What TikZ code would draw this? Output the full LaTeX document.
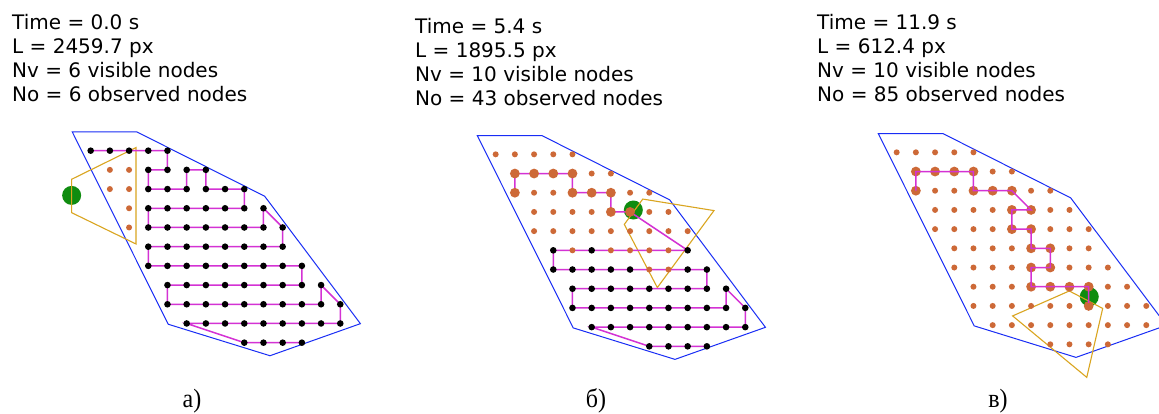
\documentclass[tikz,border=0pt]{standalone}
\usepackage{fontspec}
\setmainfont{DejaVu Sans}
\newfontfamily\capfont{Liberation Serif}

\definecolor{polyblue}{RGB}{25,45,245}
\definecolor{fovgold}{RGB}{218,165,32}
\definecolor{pathmag}{RGB}{212,50,212}
\definecolor{obsorange}{RGB}{205,105,55}
\definecolor{robgreen}{RGB}{15,140,15}

\tikzset{
  infotext/.style={anchor=base west, inner sep=0pt, font=\fontsize{20}{24}\selectfont},
  captext/.style={anchor=base, inner sep=0pt, yscale=1.1, font=\capfont\fontsize{24}{28}\selectfont},
  region/.style={draw=polyblue, line width=1pt},
  fov/.style={draw=fovgold, line width=1.1pt},
  route/.style={draw=pathmag, line width=1.5pt},
  robot/.style={fill=robgreen},
  pathdot/.style={fill=black},
  obsdot/.style={fill=obsorange},
}

\begin{document}
\begin{tikzpicture}[x=1pt,y=-1pt]
\useasboundingbox (0,0) rectangle (1159,414);
\clip (0,0) rectangle (1159,414);
\fill[white] (0,0) rectangle (1159,414);

% ---------- texts ----------
\node[infotext] (ta1) at (12,30)  {Time = 0.0 s};
\node[infotext] (ta2) at (12,54)  {L = 2459.7 px};
\node[infotext] (ta3) at (12,78)  {Nv = 6 visible nodes};
\node[infotext] (ta4) at (12,102) {No = 6 observed nodes};

\node[infotext] (tb1) at (415,33.5)  {Time = 5.4 s};
\node[infotext] (tb2) at (415,57.5)  {L = 1895.5 px};
\node[infotext] (tb3) at (415,81.5)  {Nv = 10 visible nodes};
\node[infotext] (tb4) at (415,105.5) {No = 43 observed nodes};

\node[infotext] (tc1) at (817,30)  {Time = 11.9 s};
\node[infotext] (tc2) at (817,54)  {L = 612.4 px};
\node[infotext] (tc3) at (817,78)  {Nv = 10 visible nodes};
\node[infotext] (tc4) at (817,102) {No = 85 observed nodes};

\node[captext] (capa) at (192,407) {а)};
\node[captext] (capb) at (596,407) {б)};
\node[captext] (capc) at (998,407) {в)};

% ---------- panel a ----------
\begin{scope}[shift={(90.67,150.67)}, x=19.2pt, y=-19.2pt]
  \draw[region] (-0.96,-0.98) -- (2.4,-0.98) -- (9.06,2.37) -- (14.05,9.01) -- (9.34,10.68) -- (4.04,9.04) -- cycle;
  \fill[robot] (-0.99,2.33) circle (9.5pt);
  \draw[fov] (-0.99,1.49) -- (2.36,-0.16) -- (2.36,4.86) -- (-0.99,3.23) -- cycle;
  \draw[route] (0,0) -- (4,0) -- (4,1) -- (3,1) -- (3,2) -- (5,2) -- (5,1) -- (6,1) -- (6,2) -- (8,2) -- (8,3) -- (3,3) -- (3,4) -- (9,4) -- (9,3) -- (10,4) -- (10,5) -- (3,5) -- (3,6) -- (11,6) -- (11,7) -- (4,7) -- (4,8) -- (12,8) -- (12,7) -- (13,8) -- (13,9) -- (5,9) -- (8,10) -- (11,10);
  \foreach \r/\a/\b in {0/0/4,1/3/6,2/3/8,3/3/9,4/3/10,5/3/10,6/3/11,7/4/12,8/4/13,9/5/13,10/8/11}
    \foreach \c in {\a,...,\b} \fill[pathdot] (\c,\r) circle (3.3pt);
  \foreach \c/\r in {1/1,2/1,1/2,2/2,2/3,2/4}
    \fill[obsdot] (\c,\r) circle (3pt);
\end{scope}

% ---------- panel b ----------
\begin{scope}[shift={(495.67,154.33)}, x=19.2pt, y=-19.2pt]
  \draw[region] (-0.96,-0.98) -- (2.4,-0.98) -- (9.06,2.37) -- (14.05,9.01) -- (9.34,10.68) -- (4.04,9.04) -- cycle;
  \fill[robot] (7.17,2.9) circle (9.5pt);
  \draw[fov] (7.66,2.33) -- (11.37,2.93) -- (8.42,6.94) -- (6.70,3.65) -- cycle;
  \draw[route] (1,2) -- (1,1) -- (4,1) -- (4,2) -- (6,2) -- (6,3) -- (7,3) -- (10,5) -- (3,5) -- (3,6) -- (11,6) -- (11,7) -- (4,7) -- (4,8) -- (12,8) -- (12,7) -- (13,8) -- (13,9) -- (5,9) -- (8,10) -- (11,10);
  \foreach \r/\a/\b in {0/0/4,1/1/6,2/1/8,3/2/9,4/2/10}
    \foreach \c in {\a,...,\b} \fill[obsdot] (\c,\r) circle (3pt);
  \foreach \c/\r in {4/5,6/5,7/5,8/5,9/5,8/6,9/6}
    \fill[obsdot] (\c,\r) circle (3pt);
  \foreach \c/\r in {3/5,5/5,10/5,3/6,4/6,5/6,6/6,7/6,10/6,11/6}
    \fill[pathdot] (\c,\r) circle (3.3pt);
  \foreach \r/\a/\b in {7/4/12,8/4/13,9/5/13,10/8/11}
    \foreach \c in {\a,...,\b} \fill[pathdot] (\c,\r) circle (3.3pt);
  \foreach \c/\r in {1/1,2/1,3/1,4/1,1/2,4/2,5/2,6/2,6/3,7/3}
    \fill[obsdot] (\c,\r) circle (4.9pt);
\end{scope}

% ---------- panel c ----------
\begin{scope}[shift={(896.67,152.33)}, x=19.2pt, y=-19.2pt]
  \draw[region] (-0.96,-0.98) -- (2.4,-0.98) -- (9.06,2.37) -- (14.05,9.01) -- (9.34,10.68) -- (4.04,9.04) -- cycle;
  \fill[robot] (10.03,7.52) circle (9.5pt);
  \draw[fov] (8.99,7.22) -- (10.73,8.13) -- (9.90,11.72) -- (6.04,8.52) -- cycle;
  \foreach \r/\a/\b in {0/0/4,1/1/6,2/1/8,3/2/9,4/2/10,5/3/10,6/3/11,7/4/12,8/4/13,9/5/13,10/8/11}
    \foreach \c in {\a,...,\b} \fill[obsdot] (\c,\r) circle (3pt);
  \foreach \c/\r in {1/1,2/1,3/1,4/1,1/2,4/2,5/2,6/2,6/3,7/3,6/4,7/4,7/5,8/5,7/6,8/6,7/7,8/7,9/7,10/7,10/8}
    \fill[obsdot] (\c,\r) circle (4.9pt);
  \draw[route] (1,2) -- (1,1) -- (4,1) -- (4,2) -- (6,2) -- (7,3) -- (6,3) -- (6,4) -- (7,4) -- (7,5) -- (8,5) -- (8,6) -- (7,6) -- (7,7) -- (10,7) -- (10,7.85);
\end{scope}
\end{tikzpicture}
\end{document}
